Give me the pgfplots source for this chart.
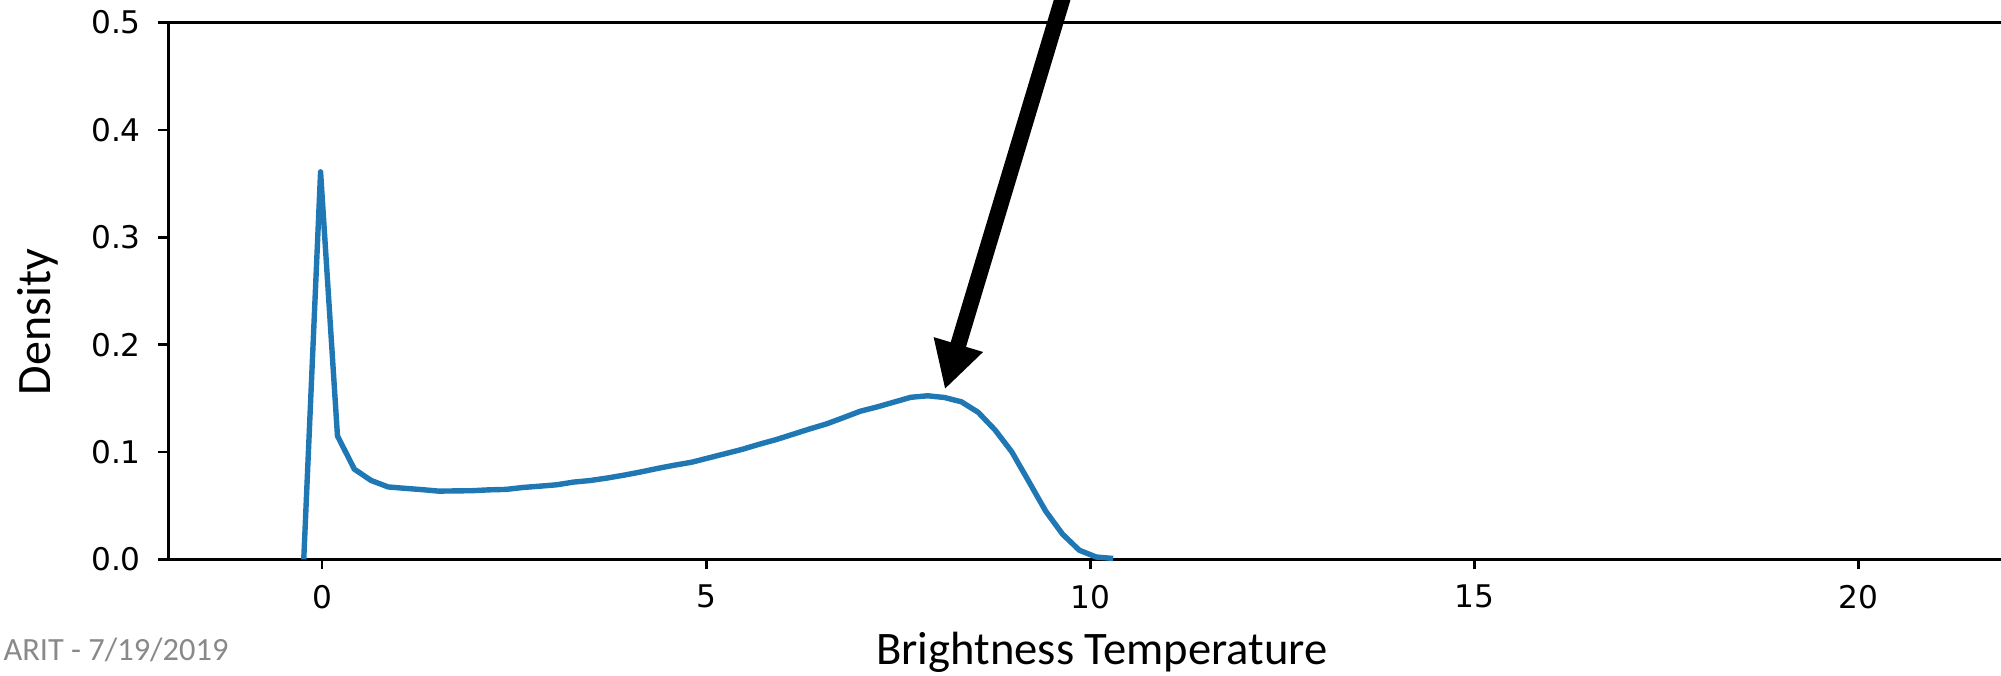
\documentclass[border=0pt]{standalone}
\usepackage{fontspec}
\setmainfont{DejaVu Sans}
\newfontfamily\carlito{Carlito}
\usepackage{pgfplots}
\pgfplotsset{compat=1.18}
\usetikzlibrary{arrows.meta}
\definecolor{mplblue}{HTML}{1F77B4}
\definecolor{footgray}{HTML}{898989}
\begin{document}
\begin{tikzpicture}
\begin{axis}[
  at={(42.1pt,28.9pt)}, anchor=south west,
  scale only axis, width=460.9pt, height=134.2pt,
  xmin=-2, xmax=22, ymin=0, ymax=0.5,
  clip=false,
  axis line style={line width=0.7pt},
  tick style={line width=0.7pt, black},
  major tick length=2.5pt,
  tick align=outside,
  xtick={0,5,10,15,20},
  ytick={0,0.1,0.2,0.3,0.4,0.5},
  yticklabels={0.0,0.1,0.2,0.3,0.4,0.5},
  xtick pos=bottom, ytick pos=left,
  ticklabel style={font=\fontsize{7.8}{9}\selectfont, inner sep=0pt},
  xticklabel style={anchor=north, yshift=-3.7pt},
  yticklabel style={anchor=east, xshift=-4.2pt},
  /pgf/number format/assume math mode=true,
]
\addplot[mplblue, line width=1.35pt, line join=round] coordinates {
(-0.238,0) (-0.019,0.361) (0.201,0.115) (0.421,0.084) (0.640,0.0735)
(0.860,0.0675) (1.079,0.0662) (1.299,0.0650) (1.518,0.0636) (1.738,0.0638)
(1.957,0.0640) (2.177,0.0648) (2.396,0.0652) (2.616,0.0670) (2.835,0.0682)
(3.055,0.0695) (3.274,0.0720) (3.494,0.0735) (3.713,0.0758) (3.933,0.0785)
(4.152,0.0815) (4.372,0.0848) (4.591,0.0878) (4.811,0.0905) (5.030,0.0945)
(5.250,0.0985) (5.469,0.1025) (5.689,0.1072) (5.908,0.1115) (6.128,0.1165)
(6.347,0.1215) (6.567,0.1262) (6.786,0.1320) (7.006,0.1380) (7.225,0.1420)
(7.445,0.1465) (7.664,0.1510) (7.884,0.1524) (8.103,0.1508) (8.323,0.1468)
(8.542,0.1370) (8.762,0.1205) (8.981,0.1000) (9.201,0.0725) (9.420,0.0450)
(9.640,0.0235) (9.859,0.0085) (10.079,0.0022) (10.298,0.0009)
};
\draw[line width=4pt, -{Triangle[width=12pt,length=11.7pt]}]
  (axis cs:9.83,0.5676) -- (axis cs:8.108,0.1584);
\end{axis}
\node[rotate=90, anchor=base, inner sep=0pt, font=\carlito\fontsize{12}{14}\selectfont] at (12.5pt,88.25pt) {Density};
\node[anchor=base, inner sep=0pt, font=\carlito\fontsize{11.65}{14}\selectfont] at (275.5pt,2.75pt) {Brightness Temperature};
\node[anchor=base west, inner sep=0pt, text=footgray, font=\carlito\fontsize{8.1}{10}\selectfont] at (0.7pt,3.6pt) {ARIT - 7/19/2019};
\pgfresetboundingbox
\useasboundingbox (0,0) rectangle (500.25pt,168.75pt);
\end{tikzpicture}
\end{document}
